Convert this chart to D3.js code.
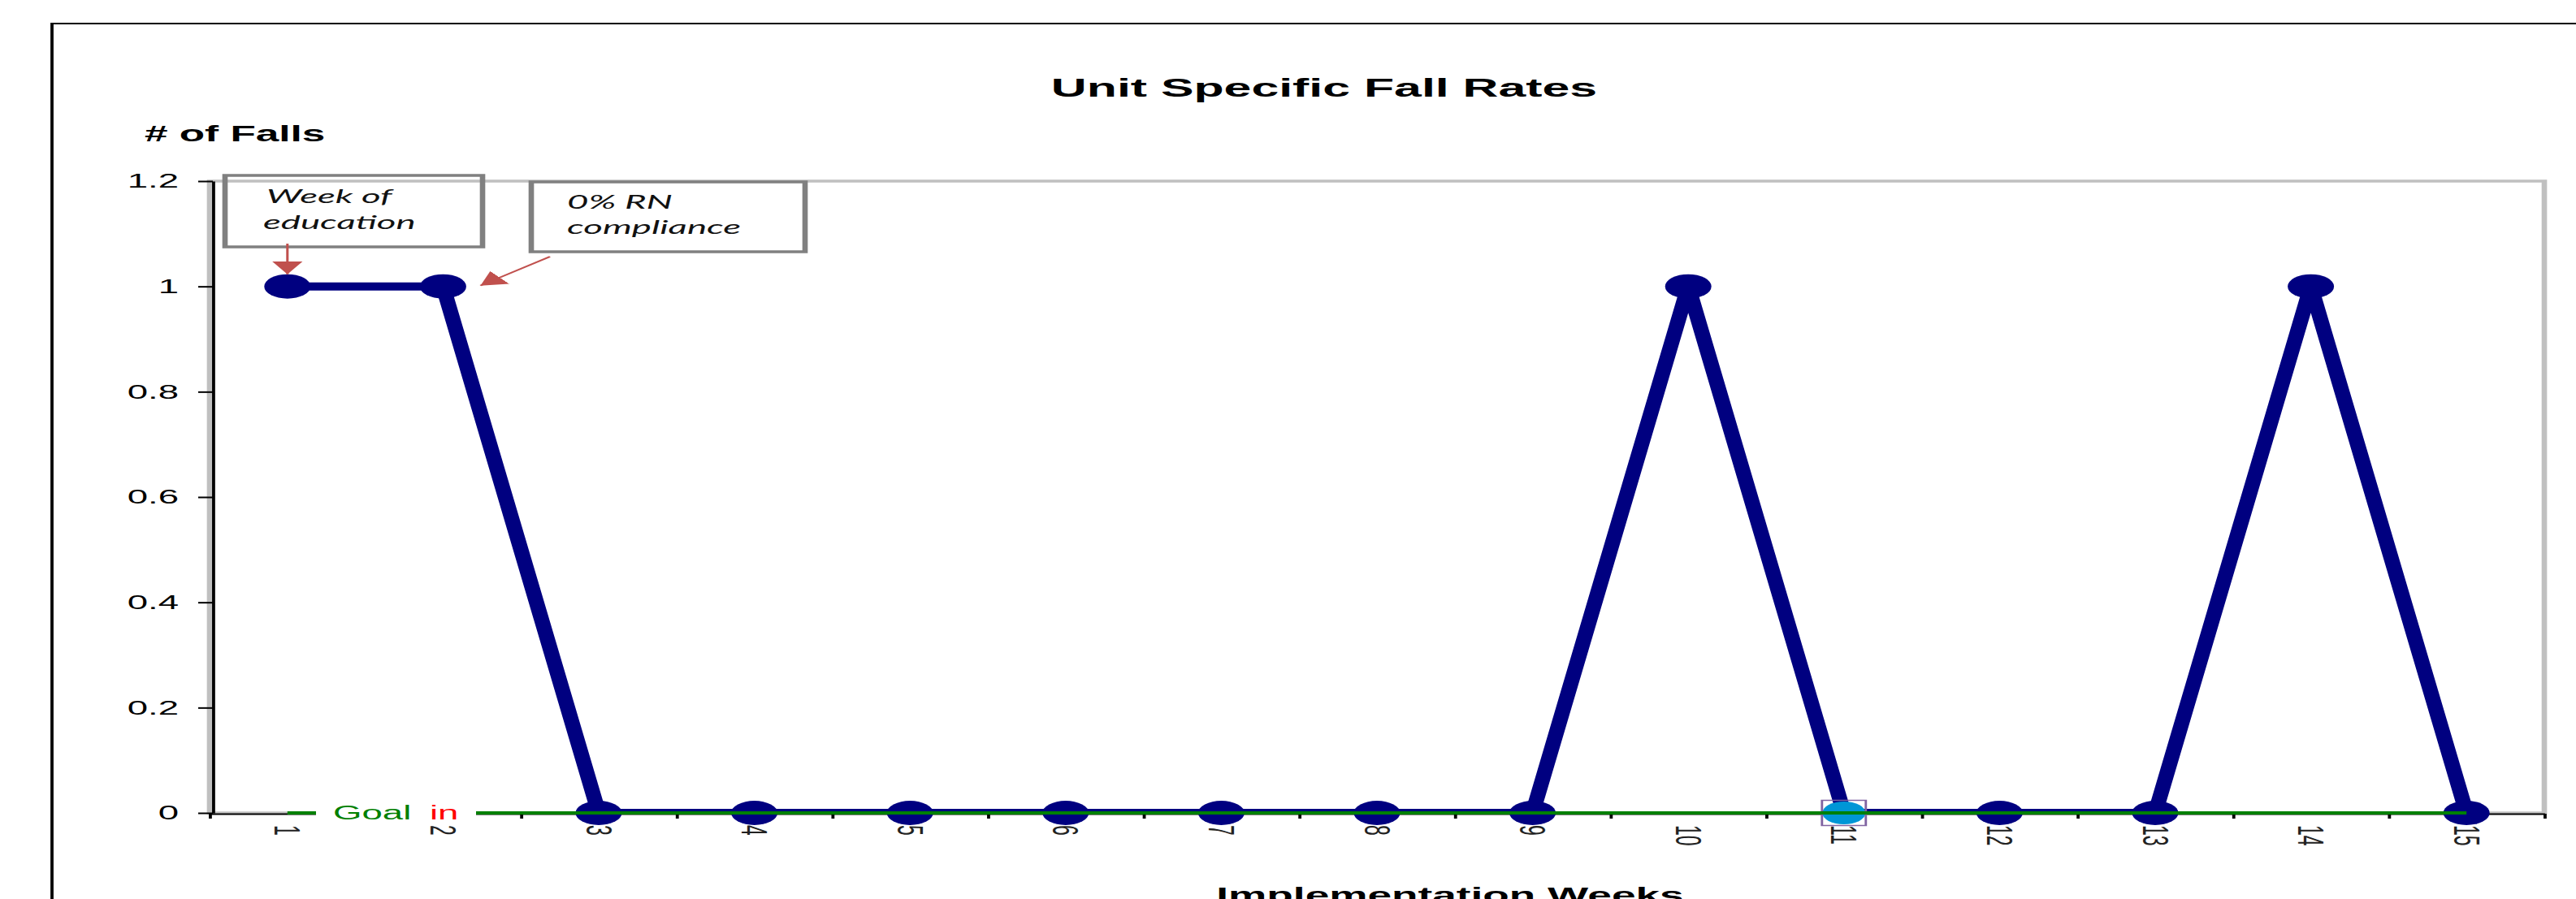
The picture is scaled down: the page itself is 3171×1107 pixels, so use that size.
<!DOCTYPE html>
<html>
<head>
<meta charset="utf-8">
<script src="https://cdn.jsdelivr.net/npm/d3@7"></script>
<style>
  body { margin: 0; background: #fff; }
  svg { display: block; }
</style>
</head>
<body>
<div id="chart"></div>
<script>
const weeks = [1, 2, 3, 4, 5, 6, 7, 8, 9, 10, 11, 12, 13, 14, 15];
const falls = [1, 1, 0, 0, 0, 0, 0, 0, 0, 1, 0, 0, 0, 1, 0];
const goal = [0, 0, 0, 0, 0, 0, 0, 0, 0, 0, 0, 0, 0, 0, 0];
const yTicks = [0, 0.2, 0.4, 0.6, 0.8, 1, 1.2];
const yTickLabels = ["0", "0.2", "0.4", "0.6", "0.8", "1", "1.2"];
const highlightWeek = 11;

const W = 3171, H = 1107;
const S = 1.9; // whole picture is stretched sideways
const plot = { left: 258, right: 3132, top: 223, bottom: 1001 };
const fx = v => v / S; // page x -> inner x

const svg = d3.select("#chart")
    .append("svg")
    .attr("width", W)
    .attr("height", H);

const g = svg.append("g")
    .attr("transform", `scale(${S},1)`);

// outer frame (runs off the right and bottom)
g.append("rect")
    .attr("x", fx(64))
    .attr("y", 29)
    .attr("width", fx(3400))
    .attr("height", 2000)
    .attr("fill", "none")
    .attr("stroke", "#000")
    .attr("stroke-width", 2);

const x = d3.scaleBand()
    .domain(weeks)
    .range([fx(plot.left), fx(plot.right)])
    .padding(0);
const xEdge = d3.scaleLinear()
    .domain([0.5, weeks.length + 0.5])
    .range([fx(plot.left), fx(plot.right)]);
const y = d3.scaleLinear()
    .domain([0, 1.2])
    .range([plot.bottom, plot.top]);
const cx = w => x(w) + x.bandwidth() / 2;

// plot area border
g.append("rect")
    .attr("x", fx(plot.left))
    .attr("y", plot.top)
    .attr("width", fx(plot.right - plot.left))
    .attr("height", plot.bottom - plot.top)
    .attr("fill", "none")
    .attr("stroke", "#c0c0c0")
    .attr("stroke-width", 3.5);

// titles
g.append("text")
    .attr("x", fx(1630))
    .attr("y", 119)
    .attr("text-anchor", "middle")
    .style("font-family", "'Liberation Sans', Arial, sans-serif")
    .style("font-weight", "bold")
    .style("font-size", "32px")
    .text("Unit Specific Fall Rates");

g.append("text")
    .attr("x", fx(178))
    .attr("y", 174)
    .style("font-family", "'Liberation Sans', Arial, sans-serif")
    .style("font-weight", "bold")
    .style("font-size", "27px")
    .text("# of Falls");

g.append("text")
    .attr("x", fx(1785))
    .attr("y", 1112)
    .attr("text-anchor", "middle")
    .style("font-family", "'Liberation Sans', Arial, sans-serif")
    .style("font-weight", "bold")
    .style("font-size", "28px")
    .text("Implementation Weeks");

// y axis
const yAxis = g.append("g")
    .attr("transform", `translate(${fx(262)},0)`)
    .call(d3.axisLeft(y)
        .tickValues(yTicks)
        .tickFormat((d, i) => yTickLabels[i])
        .tickSize(fx(18))
        .tickSizeOuter(0)
        .tickPadding(fx(24)));
yAxis.select(".domain").attr("stroke", "#000").attr("stroke-width", 2);
yAxis.selectAll(".tick line").attr("stroke", "#000").attr("stroke-width", 2);
yAxis.selectAll(".tick text")
    .style("font-family", "'Liberation Sans', Arial, sans-serif")
    .style("font-size", "24px")
    .attr("fill", "#000");

// x axis: tick marks between weeks, labels under each week
const xAxis = g.append("g")
    .attr("transform", `translate(0,${plot.bottom + 1})`)
    .call(d3.axisBottom(xEdge)
        .tickValues(d3.range(0.5, weeks.length + 1, 1))
        .tickFormat("")
        .tickSize(6)
        .tickSizeOuter(0));
xAxis.select(".domain").attr("stroke", "#000").attr("stroke-width", 2);
xAxis.selectAll(".tick line").attr("stroke", "#000").attr("stroke-width", 2);

const xLabels = g.append("g")
    .attr("transform", `translate(0,${plot.bottom + 1})`)
    .call(d3.axisBottom(x).tickSize(0).tickPadding(0));
xLabels.select(".domain").remove();
xLabels.selectAll(".tick text")
    .attr("transform", "rotate(90)")
    .attr("x", 14)
    .attr("y", 0)
    .attr("dy", "0.35em")
    .attr("text-anchor", "start")
    .attr("fill", "#222")
    .style("font-family", "'Liberation Sans', Arial, sans-serif")
    .style("font-size", "23px");

// falls series
g.append("clipPath")
    .attr("id", "plot-clip")
    .append("rect")
    .attr("x", fx(plot.left))
    .attr("y", plot.top)
    .attr("width", fx(plot.right - plot.left))
    .attr("height", plot.bottom - plot.top);

const line = d3.line()
    .x((d, i) => cx(weeks[i]))
    .y(d => y(d));

g.append("path")
    .datum(falls)
    .attr("d", line)
    .attr("fill", "none")
    .attr("stroke", "#000080")
    .attr("stroke-width", 10)
    .attr("stroke-linejoin", "round")
    .attr("clip-path", "url(#plot-clip)");

g.selectAll("circle.dot")
    .data(falls)
    .enter()
    .append("circle")
    .attr("class", "dot")
    .attr("cx", (d, i) => cx(weeks[i]))
    .attr("cy", d => y(d))
    .attr("r", (d, i) => weeks[i] === highlightWeek ? 14 : 15)
    .attr("fill", (d, i) => weeks[i] === highlightWeek ? "#0096d6" : "#000080");

// selected point outline
const hi = weeks.indexOf(highlightWeek);
g.append("rect")
    .attr("x", cx(highlightWeek) - 14.2)
    .attr("y", y(falls[hi]) - 15.5)
    .attr("width", 28.4)
    .attr("height", 31)
    .attr("fill", "none")
    .attr("stroke", "#8064a2")
    .attr("stroke-width", 1.5);

// goal line
const goalLine = d3.line()
    .x((d, i) => cx(weeks[i]))
    .y(d => y(d));

g.append("path")
    .datum(goal)
    .attr("d", goalLine)
    .attr("fill", "none")
    .attr("stroke", "#008000")
    .attr("stroke-width", 4);

g.append("rect")
    .attr("x", fx(389))
    .attr("y", y(0) - 12)
    .attr("width", fx(586 - 389))
    .attr("height", 24)
    .attr("fill", "#fff");

g.append("text")
    .attr("x", fx(410))
    .attr("y", y(0) + 8)
    .attr("fill", "#008000")
    .style("font-family", "'Liberation Sans', Arial, sans-serif")
    .style("font-size", "24px")
    .text("Goal");

g.append("text")
    .attr("x", fx(529))
    .attr("y", y(0) + 8)
    .attr("fill", "#ff0000")
    .style("font-family", "'Liberation Sans', Arial, sans-serif")
    .style("font-size", "24px")
    .text("in");

// annotation boxes
const defs = svg.append("defs");
defs.append("marker")
    .attr("id", "arrow")
    .attr("markerUnits", "userSpaceOnUse")
    .attr("viewBox", "0 -10 16 20")
    .attr("refX", 16)
    .attr("refY", 0)
    .attr("markerWidth", 16)
    .attr("markerHeight", 20)
    .attr("orient", "auto")
    .append("path")
    .attr("d", "M0,-10L16,0L0,10Z")
    .attr("fill", "#c0504d");

const box = (x0, y0, x1, y1) => g.append("rect")
    .attr("x", fx(x0))
    .attr("y", y0)
    .attr("width", fx(x1 - x0))
    .attr("height", y1 - y0)
    .attr("fill", "none")
    .attr("stroke", "#808080")
    .attr("stroke-width", 3.5);

const note = (tx, ty, s) => g.append("text")
    .attr("x", fx(tx))
    .attr("y", ty)
    .attr("fill", "#111")
    .style("font-family", "Lato, 'Open Sans', sans-serif")
    .style("font-style", "italic")
    .style("font-size", "24px")
    .text(s);

box(277, 216, 594, 304);
note(328, 250, "Week of");
note(324, 282, "education");

box(654, 224, 991, 310);
note(698, 257, "0% RN");
note(698, 288, "compliance");

g.append("line")
    .attr("x1", cx(1))
    .attr("y1", 300)
    .attr("x2", cx(1))
    .attr("y2", y(falls[0]) - 15)
    .attr("stroke", "#c0504d")
    .attr("stroke-width", 1.6)
    .attr("marker-end", "url(#arrow)");

g.append("line")
    .attr("x1", fx(677))
    .attr("y1", 316)
    .attr("x2", cx(2) + fx(46))
    .attr("y2", y(falls[1]) - 1)
    .attr("stroke", "#c0504d")
    .attr("stroke-width", 1.6)
    .attr("marker-end", "url(#arrow)");
</script>
</body>
</html>
